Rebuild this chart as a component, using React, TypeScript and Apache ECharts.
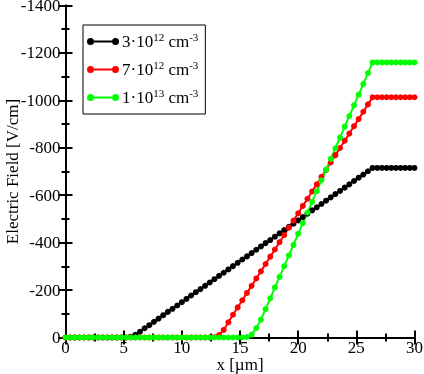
import React, { useEffect, useRef } from "react";
import * as echarts from "echarts";

const xValues = [
  0, 0.4, 0.8, 1.2, 1.6, 2.0, 2.4, 2.8, 3.2, 3.6, 4.0, 4.4, 4.8, 5.2, 5.6, 6.0, 6.4, 6.8, 7.2, 7.6,
  8.0, 8.4, 8.8, 9.2, 9.6, 10.0, 10.4, 10.8, 11.2, 11.6, 12.0, 12.4, 12.8, 13.2, 13.6, 14.0, 14.4, 14.8, 15.2, 15.6,
  16.0, 16.4, 16.8, 17.2, 17.6, 18.0, 18.4, 18.8, 19.2, 19.6, 20.0, 20.4, 20.8, 21.2, 21.6, 22.0, 22.4, 22.8, 23.2, 23.6,
  24.0, 24.4, 24.8, 25.2, 25.6, 26.0, 26.4, 26.8, 27.2, 27.6, 28.0, 28.4, 28.8, 29.2, 29.6, 30.0,
];

const black3e12 = [
  0, 0, 0, 0, 0, 0, 0, 0, 0, 0, 0, 0, 0, 0, -3, -11, -24, -39, -52, -66,
  -80, -94, -108, -121, -135, -149, -163, -177, -191, -204, -218, -232, -246, -260, -273, -287, -301, -315, -329, -342,
  -356, -370, -384, -398, -411, -425, -439, -453, -467, -480, -494, -508, -522, -536, -549, -563, -577, -591, -605, -618,
  -632, -646, -660, -674, -687, -701, -715, -715, -715, -715, -715, -715, -715, -715, -715, -715,
];

const red7e12 = [
  0, 0, 0, 0, 0, 0, 0, 0, 0, 0, 0, 0, 0, 0, 0, 0, 0, 0, 0, 0,
  0, 0, 0, 0, 0, 0, 0, 0, 0, 0, 0, 0, -2, -10, -32, -64, -96, -127, -157, -188,
  -218, -249, -279, -310, -341, -371, -402, -432, -463, -493, -524, -555, -585, -616, -646, -677, -707, -738, -769, -799,
  -830, -860, -891, -921, -952, -983, -1013, -1013, -1013, -1013, -1013, -1013, -1013, -1013, -1013, -1013,
];

const green1e13 = [
  0, 0, 0, 0, 0, 0, 0, 0, 0, 0, 0, 0, 0, 0, 0, 0, 0, 0, 0, 0,
  0, 0, 0, 0, 0, 0, 0, 0, 0, 0, 0, 0, 0, 0, 0, 0, 0, 0, 0, -2,
  -12, -40, -75, -120, -165, -211, -256, -301, -346, -391, -437, -482, -527, -572, -617, -663, -708, -753, -798, -843,
  -889, -934, -979, -1024, -1069, -1115, -1160, -1160, -1160, -1160, -1160, -1160, -1160, -1160, -1160, -1160,
];

const seriesNames = ["3e12", "7e12", "1e13"];
const legendBase = ["3·10", "7·10", "1·10"];
const legendExp = ["12", "12", "13"];
const seriesColors = ["#000000", "#ff0000", "#00ff00"];

const FONT = "Liberation Serif";

export default function App() {
  const ref = useRef<HTMLDivElement>(null);
  useEffect(() => {
    if (!ref.current) return;
    const chart = echarts.init(ref.current, undefined, { renderer: "svg" });
    const dataSets = [black3e12, red7e12, green1e13];
    const axisCommon = {
      axisLine: { lineStyle: { color: "#000", width: 2 } },
      axisTick: { inside: true, length: 7, lineStyle: { color: "#000", width: 2 } },
      minorTick: { show: true, splitNumber: 2, length: 4, lineStyle: { color: "#000", width: 2 } },
      splitLine: { show: false },
    };
    const legendIcon =
      "path://M0,3.5 A3.5,3.5 0 1,1 7,3.5 A3.5,3.5 0 1,1 0,3.5 Z M7,2.5 L25,2.5 L25,4.5 L7,4.5 Z M25,3.5 A3.5,3.5 0 1,1 32,3.5 A3.5,3.5 0 1,1 25,3.5 Z";
    chart.setOption({
      animation: false,
      textStyle: { fontFamily: FONT },
      grid: { left: 65.5, right: 9.5, top: 5.5, bottom: 36.5, outerBoundsMode: "none", containLabel: false },
      legend: {
        orient: "vertical",
        left: 83,
        top: 25,
        padding: [6, 7, 6, 4],
        itemGap: 7,
        itemWidth: 32,
        itemHeight: 7,
        borderColor: "#000",
        borderWidth: 1,
        borderRadius: 0,
        icon: legendIcon,
        data: seriesNames,
        formatter: (name: string) => {
          const i = seriesNames.indexOf(name);
          return `{n|${legendBase[i]}}{s|${legendExp[i]}}{n| cm}{s|-3}`;
        },
        textStyle: {
          fontFamily: FONT,
          padding: [0, 0, 0, -2],
          rich: {
            n: { fontFamily: FONT, fontSize: 17, color: "#000", lineHeight: 20 },
            s: { fontFamily: FONT, fontSize: 11, color: "#000", lineHeight: 20, padding: [0, 0, 10, 0] },
          },
        },
      },
      xAxis: [
        {
          type: "value",
          min: 0,
          max: 30,
          interval: 5,
          name: "x [µm]",
          nameLocation: "middle",
          nameGap: 19,
          nameMoveOverlap: false,
          nameTextStyle: { fontFamily: FONT, fontSize: 17, color: "#000", lineHeight: 16 },
          axisLabel: { fontFamily: FONT, fontSize: 17, color: "#000", margin: 3, lineHeight: 13 },
          ...axisCommon,
        },
        {
          type: "value",
          position: "top",
          min: 0,
          max: 30,
          interval: 5,
          axisLabel: { show: false },
          ...axisCommon,
        },
      ],
      yAxis: [
        {
          type: "value",
          min: -1400,
          max: 0,
          interval: 200,
          inverse: true,
          name: "Electric Field [V/cm]",
          nameLocation: "middle",
          nameGap: 45,
          nameMoveOverlap: false,
          nameTextStyle: { fontFamily: FONT, fontSize: 17, color: "#000", lineHeight: 17 },
          axisLabel: {
            fontFamily: FONT,
            fontSize: 17,
            color: "#000",
            margin: 5,
            lineHeight: 11,
            formatter: (v: number) => String(v),
          },
          ...axisCommon,
        },
        {
          type: "value",
          position: "right",
          min: -1400,
          max: 0,
          interval: 200,
          inverse: true,
          axisLabel: { show: false },
          ...axisCommon,
        },
      ],
      series: dataSets.map((d, i) => ({
        name: seriesNames[i],
        type: "line",
        data: xValues.map((x, j) => [x, d[j]]),
        symbol: "circle",
        symbolSize: 6,
        showAllSymbol: true,
        clip: false,
        itemStyle: { color: seriesColors[i] },
        lineStyle: { color: seriesColors[i], width: 2 },
      })),
    });
    return () => chart.dispose();
  }, []);
  return (
    <div
      ref={ref}
      style={{ position: "fixed", left: 0, top: 0, width: 424, height: 374 }}
    />
  );
}
